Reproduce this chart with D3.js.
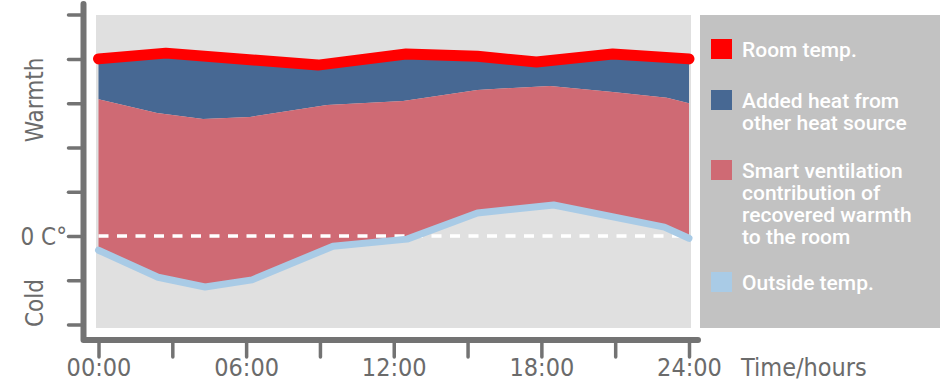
<!DOCTYPE html>
<html>
<head>
<meta charset="utf-8">
<script src="https://cdn.jsdelivr.net/npm/d3@7"></script>
<style>
  html, body { margin: 0; padding: 0; background: #ffffff; }
  svg { display: block; }
</style>
</head>
<body>
<svg id="chart" width="940" height="380"></svg>
<script>
// ---- data (hours, value in tick units; 0 = 0 °C) ----
const roomTempHours   = [0, 2.74, 8.92, 12.5, 15.4, 17.8, 20.9, 24];
const roomTempValues  = [4.0, 4.13, 3.86, 4.11, 4.06, 3.93, 4.11, 4.0];

const ventTopHours    = [0, 2.38, 4.25, 6.16, 9.29, 12.38, 15.4, 18.35, 20.9, 23.1, 24];
const ventTopValues   = [3.09, 2.78, 2.64, 2.69, 2.96, 3.05, 3.30, 3.39, 3.25, 3.12, 3.0];

const outsideHours    = [0, 2.42, 4.33, 6.24, 9.53, 12.54, 15.4, 18.5, 23.0, 24];
const outsideValues   = [-0.32, -0.93, -1.15, -0.99, -0.23, -0.07, 0.52, 0.70, 0.20, -0.05];

const xTickHours  = [0, 3, 6, 9, 12, 15, 18, 21, 24];
const xTickLabels = {0: "00:00", 6: "06:00", 12: "12:00", 18: "18:00", 24: "24:00"};
const yTickValues = [-2, -1, 0, 1, 2, 3, 4, 5];

const legendItems = [
  {label: ["Room temp."], color: "#ff0000"},
  {label: ["Added heat from", "other heat source"], color: "#476893"},
  {label: ["Smart ventilation", "contribution of", "recovered warmth", "to the room"], color: "#cf6a74"},
  {label: ["Outside temp."], color: "#a9cbe6"}
];

// ---- setup ----
const svg = d3.select("#chart");
const x = d3.scaleLinear().domain([0, 24]).range([98.5, 689]);
const y = d3.scaleLinear().domain([-2, 5]).range([324.6, 14.6]);

const axisColor = "#737373";
const textColor = "#6b6b6b";
const labelFont = "'DejaVu Sans Condensed', 'DejaVu Sans', sans-serif";

const zip = (hs, vs) => hs.map((h, i) => [h, vs[i]]);
const roomPts = zip(roomTempHours, roomTempValues);
const ventPts = zip(ventTopHours, ventTopValues);
const outPts  = zip(outsideHours, outsideValues);

// plot background
svg.append("rect").attr("x", 96).attr("y", 15).attr("width", 595).attr("height", 313).attr("fill", "#e0e0e0");
// legend background
svg.append("rect").attr("x", 700).attr("y", 15).attr("width", 240).attr("height", 313).attr("fill", "#c2c2c2");

const line = d3.line().x(d => x(d[0])).y(d => y(d[1]));

// blue area: between room temp and vent top
svg.append("path")
  .attr("d", line(roomPts.concat(ventPts.slice().reverse())) + "Z")
  .attr("fill", "#476893");

// pink area: between vent top and outside temp
svg.append("path")
  .attr("d", line(ventPts.concat(outPts.slice().reverse())) + "Z")
  .attr("fill", "#cf6a74");

// 0 °C dashed line
svg.append("line")
  .attr("x1", x(0)).attr("x2", x(24))
  .attr("y1", y(0)).attr("y2", y(0))
  .attr("stroke", "#ffffff").attr("stroke-width", 3.5)
  .attr("stroke-dasharray", "10,8.5");

// outside temp line
svg.append("path")
  .attr("d", line(outPts))
  .attr("fill", "none").attr("stroke", "#a9cbe6").attr("stroke-width", 7)
  .attr("stroke-linecap", "round").attr("stroke-linejoin", "round");

// room temp line
svg.append("path")
  .attr("d", line(roomPts))
  .attr("fill", "none").attr("stroke", "#ff0000").attr("stroke-width", 11)
  .attr("stroke-linecap", "round").attr("stroke-linejoin", "round");

// ---- axes ----
svg.append("path")
  .attr("d", "M83.5,4 L83.5,340 L698,340")
  .attr("fill", "none").attr("stroke", axisColor).attr("stroke-width", 6)
  .attr("stroke-linecap", "round").attr("stroke-linejoin", "round");

const yAxis = svg.append("g").attr("transform", "translate(83.5,0)")
  .call(d3.axisLeft(y).tickValues(yTickValues).tickSize(15).tickFormat(""));
yAxis.select(".domain").remove();
yAxis.selectAll(".tick line").attr("stroke", axisColor).attr("stroke-width", 3.5).attr("stroke-linecap", "round");

const xAxis = svg.append("g").attr("transform", "translate(0,340)")
  .call(d3.axisBottom(x).tickValues(xTickHours).tickSize(17).tickFormat(d => xTickLabels[d] || ""));
xAxis.select(".domain").remove();
xAxis.selectAll(".tick line").attr("stroke", axisColor).attr("stroke-width", 3.5).attr("stroke-linecap", "round");
xAxis.selectAll(".tick text")
  .attr("y", 35.5).attr("dy", null)
  .attr("fill", textColor)
  .style("font-family", labelFont).style("font-size", "25px");

// x axis title
svg.append("text").attr("x", 741).attr("y", 375.5)
  .attr("fill", textColor).style("font-family", labelFont).style("font-size", "25px")
  .text("Time/hours");

// y labels
svg.append("text").attr("x", 67).attr("y", 245).attr("text-anchor", "end")
  .attr("fill", textColor).style("font-family", labelFont).style("font-size", "24px")
  .text("0 C°");
svg.append("text").attr("transform", "translate(43,100) rotate(-90)").attr("text-anchor", "middle")
  .attr("fill", textColor).style("font-family", labelFont).style("font-size", "24px")
  .text("Warmth");
svg.append("text").attr("transform", "translate(43,303) rotate(-90)").attr("text-anchor", "middle")
  .attr("fill", textColor).style("font-family", labelFont).style("font-size", "24px")
  .text("Cold");

// ---- legend ----
const legendTops = [39, 90, 160, 272];
const legend = svg.append("g");
legendItems.forEach((item, i) => {
  const top = legendTops[i];
  legend.append("rect").attr("x", 711).attr("y", top).attr("width", 21).attr("height", 20).attr("fill", item.color);
  const t = legend.append("text").attr("x", 742).attr("y", top + 18)
    .attr("fill", "#ffffff")
    .style("font-family", "Roboto, 'Open Sans', sans-serif").style("font-weight", 500).style("font-size", "21px");
  item.label.forEach((l, j) => {
    t.append("tspan").attr("x", 742).attr("dy", j === 0 ? 0 : 22).text(l);
  });
});
</script>
</body>
</html>
